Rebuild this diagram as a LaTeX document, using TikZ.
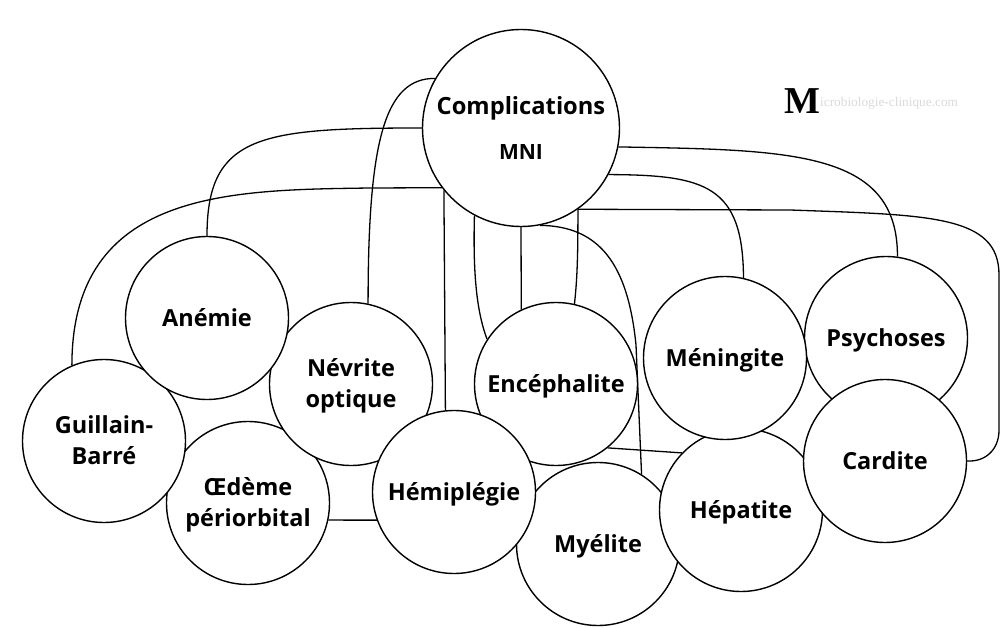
\documentclass[tikz,border=0pt]{standalone}
\usepackage{fontspec}
\setmainfont{Open Sans}
\newfontfamily\logofont{Liberation Serif}
\usetikzlibrary{backgrounds}
\tikzset{
  compli/.style={circle,draw,fill=white,line width=1.4pt,minimum size=163pt,inner sep=0pt,align=center,
    text height=21pt,text depth=5pt,font=\fontsize{23.5}{31}\selectfont\bfseries},
  deuxlignes/.style={compli,text height=51pt},
  centre/.style={circle,draw,fill=white,line width=1.4pt,minimum size=197pt,inner sep=0pt,align=center,
    font=\bfseries},
  lien/.style={line width=1.3pt}
}
\begin{document}
\begin{tikzpicture}[x=1pt,y=-1pt]
\useasboundingbox (0,0) rectangle (1000,628);
\node[centre] (mni) at (521,128) {\fontsize{23.7}{26}\selectfont Complications\\[23pt]\fontsize{21}{24}\selectfont MNI};
\node[deuxlignes] (oedeme) at (248,503) {Œdème\\périorbital};
\node[deuxlignes] (guillain) at (104,441) {Guillain-\\Barré};
\node[deuxlignes] (nevrite) at (351,384) {Névrite\\optique};
\node[compli] (anemie) at (207,318) {Anémie};
\node[compli] (encephalite) at (556,384) {Encéphalite};
\node[compli] (myelite) at (598,544) {Myélite};
\node[compli] (hemiplegie) at (454,492) {Hémiplégie};
\node[compli] (hepatite) at (741,510) {Hépatite};
\node[compli] (psychoses) at (886,338) {Psychoses};
\node[compli] (cardite) at (885,461) {Cardite};
\node[compli] (meningite) at (725,358) {Méningite};
\node[inner sep=0pt,font=\logofont\bfseries\fontsize{38}{38}\selectfont] (logo) at (802,101) {M};
\node[inner sep=0pt,anchor=west,text=black!15,font=\logofont\fontsize{13.3}{13}\selectfont] (site) at (820,103) {icrobiologie-clinique.com};

\begin{scope}[on background layer]
\draw[lien] (mni.180) .. controls (260,128) and (207,135) .. (anemie.90);
\draw[lien] (mni.150) .. controls (385,78) and (368,140) .. (nevrite.78);
\draw[lien] (mni.217) -- (370,188) .. controls (230,190) and (72,190) .. (guillain.113);
\draw[lien] (mni.219) -- (hemiplegie.96);
\draw[lien] (mni.242) .. controls (473,270) and (476,310) .. (encephalite.147);
\draw[lien] (mni.270) -- (encephalite.115);
\draw[lien] (mni.305) .. controls (578,260) and (577,280) .. (encephalite.77);
\draw[lien] (mni.281) .. controls (600,226) and (628,265) .. (636,345) -- (myelite.58);
\draw[lien] (mni.332) .. controls (705,175) and (743,185) .. (meningite.77);
\draw[lien] (mni.349) .. controls (790,150) and (898,150) .. (psychoses.82);
\draw[lien] (mni.305) -- (790,210) .. controls (930,215) and (999,215) .. (999,275) -- (999,430) .. controls (999,450) and (985,462) .. (cardite.0);
\draw[lien] (encephalite.309) -- (hepatite.136);
\draw[lien] (oedeme.348) -- (hemiplegie.200);
\end{scope}
\end{tikzpicture}
\end{document}
